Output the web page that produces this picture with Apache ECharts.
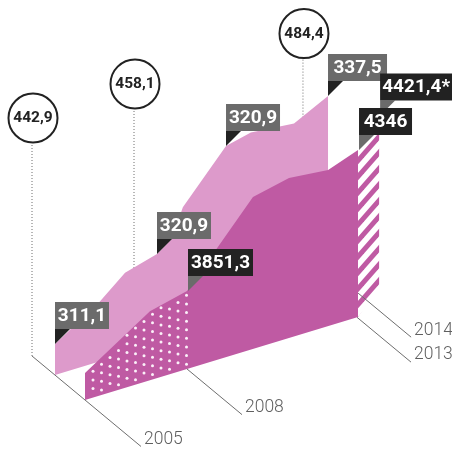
<!DOCTYPE html>
<html><head><meta charset="utf-8">
<style>html,body{margin:0;padding:0;background:#fff}#c{width:452px;height:452px}</style>
<script src="https://cdn.jsdelivr.net/npm/echarts@6/dist/echarts.min.js"></script>
</head><body><div id="c"></div>
<script>
// ---- data (x = year on the time axis, y = height above the floor)
const backYears   = [2005, 2006.32, 2007.06, 2008, 2008.44, 2008.76, 2010.03, 2010.76, 2012.03, 2013.03];
const backHeights = [31, 60, 81, 90, 101, 129, 177, 183, 179, 196];
const frontYears   = [2005, 2006.91, 2008, 2009.94, 2011, 2012.15, 2013.03];
const frontHeights = [27, 69, 78, 152, 160, 156, 167];
const stripeYears   = [2013.03, 2013.65];
const stripeTops    = [167, 178];
const stripeBottoms = [0, 24];
const circleYears   = [2005, 2008, 2012.97];
const circleHeights = [238, 241, 240];
const circleLabels  = ['442,9', '458,1', '484,4'];
const backLabelYears  = [2005, 2008, 2010.03, 2013.03];
const backLabelHeights= [31, 90, 177, 196];
const backLabels      = ['311,1', '320,9', '320,9', '337,5'];
const frontLabelYears  = [2008, 2013.03, 2013.65];
const frontLabelHeights= [78, 167, 178];
const frontLabels      = ['3851,3', '4346', '4421,4*'];
const axisYears  = [2005, 2008, 2013, 2013.65];
const axisLabels = ['2005', '2008', '2013', '2014'];

// ---- styling and projection
const LIGHT = '#dd9acb', DARK = '#bf5aa3', INK = '#222222', GREY = '#6b6b6b', LINE = '#6e6e6e';
const SLOPE = 0.304, DEPTH = 0.83;
const BACK_D = 23, FRONT_D = 53;
const axisFrom = [0, FRONT_D, FRONT_D, 32], axisTo = [109, 108, 107, 85];
const backW = [54, 54, 54, 59], frontW = [65, 53, 72], frontLift = [0, 0, 17];
const BOX_H = 27, TRI_H = 15, TRI_W = 15;

function proj(api, year, h, d) {
  const p = api.coord([year, h]);
  const x0 = api.coord([2005, 0])[0];
  return [p[0] + d, p[1] - SLOPE * (p[0] - x0) + DEPTH * d];
}
function topAt(ys, hs, y) {
  for (let i = 1; i < ys.length; i++) if (y <= ys[i]) {
    return hs[i-1] + (hs[i]-hs[i-1]) * (y-ys[i-1]) / (ys[i]-ys[i-1]);
  }
  return hs[hs.length-1];
}
function stripeCanvas() {
  const w = 14, h = 16, c = document.createElement('canvas'); c.width = w; c.height = h;
  const g = c.getContext('2d'); g.fillStyle = '#fff'; g.fillRect(0,0,w,h);
  g.fillStyle = DARK;
  for (let k = -2; k < 4; k++) {
    const a = 6 + h*k, b = 13.5 + h*k;
    g.beginPath(); g.moveTo(0, a); g.lineTo(w, a-h); g.lineTo(w, b-h); g.lineTo(0, b); g.closePath(); g.fill();
  }
  return c;
}
const stripe = stripeCanvas();
const silent = {silent:true, animation:false, coordinateSystem:'cartesian2d', clip:false};

function once(fn, z, n) {
  return Object.assign({}, silent, {type:'custom', z:z,
    data: Array.from({length:n||1}, () => [2005, 0]),
    renderItem: (params, api) => fn(params, api)});
}
const seriesList = [
  // dotted stems and circles
  once((params, api) => {
    const kids = [];
    circleYears.forEach((y,i) => {
      const c = proj(api, y, circleHeights[i], 0), b = proj(api, y, 0, 0);
      kids.push({type:'line', shape:{x1:b[0],y1:b[1],x2:c[0],y2:c[1]+26},
        style:{stroke:LINE, lineWidth:1, lineDash:[1,2]}});
      kids.push({type:'circle', shape:{cx:c[0]+1,cy:c[1],r:24.5},
        style:{fill:'#fff', stroke:INK, lineWidth:2}});
      kids.push({type:'text', style:{text:circleLabels[i], x:c[0]+1, y:c[1]+0.5, fill:INK,
        font:'bold 15.5px Roboto', align:'center', verticalAlign:'middle'}});
    });
    return {type:'group', children:kids};
  }, 1),
  // back area
  once((params, api) => {
    const pts = backYears.map((y,i) => proj(api, y, backHeights[i], BACK_D));
    const end = backYears.length-1;
    pts.push(proj(api, backYears[end], 0, BACK_D), proj(api, backYears[0], 0, BACK_D));
    return {type:'polygon', shape:{points:pts}, style:{fill:LIGHT}};
  }, 2),
  // front area
  once((params, api) => {
    const pts = frontYears.map((y,i) => proj(api, y, frontHeights[i], FRONT_D));
    const end = frontYears.length-1;
    pts.push(proj(api, frontYears[end], 0, FRONT_D), proj(api, frontYears[0], 0, FRONT_D));
    const kids = [{type:'polygon', shape:{points:pts}, style:{fill:DARK}}];
    for (let c = 0; c < 12; c++) {
      const yr = 2005 + (8 + 8.5*c)/34;
      const top = topAt(frontYears, frontHeights, yr);
      for (let k = 0; k < 14; k++) {
        const h = (c%2 ? 5 : 9) + 8.6*k;
        if (h > top - 2) break;
        const q = proj(api, yr, h, FRONT_D);
        kids.push({type:'circle', shape:{cx:q[0],cy:q[1],r:1.5}, style:{fill:'#fbf0f8'}});
      }
    }
    return {type:'group', children:kids};
  }, 3),
  // striped last year
  once((params, api) => {
    const pts = [proj(api, stripeYears[0], stripeTops[0], FRONT_D),
                 proj(api, stripeYears[1], stripeTops[1], FRONT_D),
                 proj(api, stripeYears[1], stripeBottoms[1], FRONT_D),
                 proj(api, stripeYears[0], stripeBottoms[0], FRONT_D)];
    return {type:'polygon', shape:{points:pts},
      style:{fill:{image:stripe, repeat:'repeat'}}};
  }, 3),
  // depth axes and year labels
  once((params, api) => {
    const kids = [];
    axisYears.forEach((y,i) => {
      const a = proj(api, y, 0, axisFrom[i]), b = proj(api, y, 0, axisTo[i]);
      kids.push({type:'line', shape:{x1:a[0],y1:a[1],x2:b[0],y2:b[1]},
        style:{stroke:LINE, lineWidth:1}});
      kids.push({type:'text', style:{text:axisLabels[i], x:b[0]+3, y:b[1]-7, fill:'#5f5f5f',
        font:'300 17.5px Roboto', align:'left', verticalAlign:'middle'}});
    });
    return {type:'group', children:kids};
  }, 4),
  // value flags
  once((params, api) => {
    const kids = [];
    const flag = (a, w, txt, boxFill, triFill) => {
      const bot = a[1] - TRI_H;
      kids.push({type:'polygon', shape:{points:[[a[0],bot],[a[0]+TRI_W,bot],[a[0],a[1]]]}, style:{fill:triFill}});
      kids.push({type:'rect', shape:{x:a[0],y:bot-BOX_H,width:w,height:BOX_H}, style:{fill:boxFill}});
      kids.push({type:'text', style:{text:txt, x:a[0]+w/2, y:bot-BOX_H/2+0.5, fill:'#fff',
        font:'bold 19px Roboto', align:'center', verticalAlign:'middle'}});
    };
    backLabels.forEach((t,i) => flag(proj(api, backLabelYears[i], backLabelHeights[i], BACK_D),
      backW[i], t, GREY, INK));
    [2,1,0].forEach(i => {
      const a = proj(api, frontLabelYears[i], frontLabelHeights[i], FRONT_D);
      flag([a[0]+1, a[1]-frontLift[i]], frontW[i], frontLabels[i], INK, GREY);
    });
    return {type:'group', children:kids};
  }, 5)
];

const chart = echarts.init(document.getElementById('c'), null, {renderer:'canvas'});
chart.setOption({
  animation:false,
  backgroundColor:'#ffffff',
  grid:{left:32, top:56, width:306, height:300},
  xAxis:{type:'value', min:2005, max:2014, show:false},
  yAxis:{type:'value', min:0, max:300, show:false},
  series: seriesList
});
</script></body></html>
